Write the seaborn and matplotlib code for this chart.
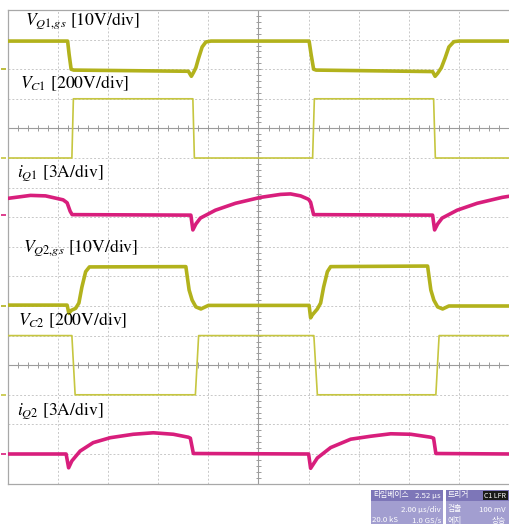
import numpy as np
import pandas as pd
import matplotlib
matplotlib.use("Agg")
import matplotlib.pyplot as plt
from matplotlib.patches import Rectangle
import seaborn as sns

# ---------------- data (time in µs, values in V / A) ----------------
t_vq1 = [0, 2.38, 2.44, 2.52, 2.62, 7.2, 7.32, 7.4, 7.5, 7.6, 7.75, 7.9, 8.1,
         12.02, 12.1, 12.2, 12.3, 16.95, 17.05, 17.15, 17.3, 17.45, 17.6, 17.8, 18.0, 20.1]
v_vq1 = [9.5, 9.5, 5, 0, -0.3, -0.7, -2.4, -1.2, 0.5, 3.5, 7.5, 9.2, 9.5,
         9.5, 5, 0, -0.3, -0.8, -2.4, -1.4, 0.5, 3.8, 7.5, 9.3, 9.5, 9.5]

t_vc1 = [0, 2.55, 2.61, 7.38, 7.44, 12.16, 12.23, 16.99, 17.06, 20.1]
v_vc1 = [0, 0, 400, 400, 0, 0, 400, 400, 0, 0]

t_iq1 = [0, 0.9, 1.5, 2.2, 2.36, 2.48, 2.56, 7.3, 7.38, 7.5, 7.68, 8.28, 9.08, 10.08,
         10.88, 11.28, 11.68, 12.0, 12.08, 12.2, 16.95, 17.03, 17.15, 17.33, 17.93,
         18.73, 19.73, 20.1]
v_iq1 = [1.7, 2.0, 1.95, 1.55, 1.25, 0.4, 0.05, 0, -1.5, -0.9, -0.3, 0.5, 1.2, 1.8,
         2.1, 2.15, 1.95, 1.6, 1.3, 0.05, 0, -1.5, -0.9, -0.3, 0.5,
         1.2, 1.8, 1.95]

t_vq2 = [0, 2.36, 2.43, 2.52, 2.7, 2.83, 2.95, 3.1, 3.25, 7.1, 7.23, 7.35, 7.5, 7.7, 8.0,
         12.02, 12.08, 12.15, 12.35, 12.48, 12.6, 12.75, 12.88, 16.75, 16.88, 17.0,
         17.15, 17.35, 17.6, 20.1]
v_vq2 = [0.3, 0.3, -2.5, -1.5, -0.8, 1.0, 6.4, 11.6, 13.2, 13.3, 5.4, 2.0, -0.3, -1.0, 0.2,
         0.2, -4.0, -3.0, -1.0, 1.0, 6.4, 11.6, 13.3, 13.5, 5.4, 2.0,
         -0.3, -1.0, 0.0, 0.0]

t_vc2 = [0, 2.55, 2.68, 7.48, 7.61, 12.21, 12.35, 17.08, 17.21, 20.1]
v_vc2 = [400, 400, 0, 0, 400, 400, 0, 0, 400, 400]

t_iq2 = [0, 2.32, 2.42, 2.55, 2.88, 3.4, 4.08, 5.0, 5.8, 6.6, 7.2, 7.28, 7.4,
         12.0, 12.08, 12.35, 12.88, 13.68, 14.48, 15.28, 16.08, 16.88, 16.99, 17.08, 20.1]
v_iq2 = [0, 0, -1.4, -0.7, 0.3, 1.15, 1.65, 2.0, 2.15, 2.0, 1.7, 1.6, 0.05,
         0, -1.45, -0.4, 0.65, 1.5, 1.8, 2.05, 2.0, 1.7, 1.6, 0.05, 0]

channels = ["VQ1gs", "VC1", "iQ1", "VQ2gs", "VC2", "iQ2"]
labels = [r"$V_{Q1{,}gs}$ [10V/div]", r"$V_{C1}$ [200V/div]", r"$i_{Q1}$ [3A/div]",
          r"$V_{Q2{,}gs}$ [10V/div]", r"$V_{C2}$ [200V/div]", r"$i_{Q2}$ [3A/div]"]
scales = [10, 200, 3, 10, 200, 3]           # units per division
ground_div = [14, 11, 9.07, 6, 3, 1.0]      # ground marker position (div)
times = [t_vq1, t_vc1, t_iq1, t_vq2, t_vc2, t_iq2]
values = [v_vq1, v_vc1, v_iq1, v_vq2, v_vc2, v_iq2]

time_per_div = 2.0  # µs/div

# ---------------- styling ----------------
sns.set_theme(style="white")
plt.rcParams["font.family"] = "STIXGeneral"
plt.rcParams["mathtext.fontset"] = "stix"

gate_col = "#b2b21c"
vc_col = "#c6c640"
cur_col = "#d81e7c"
colors = [gate_col, vc_col, cur_col, gate_col, vc_col, cur_col]
widths = [2.6, 1.2, 2.6, 2.6, 1.2, 2.6]

W, H = 510, 524
fig = plt.figure(figsize=(W / 100, H / 100), dpi=100)
left_px, right_px, top_px, bot_px = 8, 509, 10, 483.6
ax = fig.add_axes([left_px / W, 1 - bot_px / H, (right_px - left_px) / W, (bot_px - top_px) / H])
ax.set_xlim(0, 10 * time_per_div)
ax.set_ylim(0, 16)
ax.set_xticks([])
ax.set_yticks([])
for s in ["left", "top", "bottom"]:
    ax.spines[s].set_color("#a8a8a8")
    ax.spines[s].set_linewidth(0.9)
ax.spines["right"].set_visible(False)

# grid
grid_col = "#c8c8c8"
for i in range(1, 10):
    if i == 5:
        continue
    ax.axvline(i * time_per_div, color=grid_col, lw=0.7, ls=(0, (2, 2)), zorder=0)
for j in range(1, 16):
    if j in (4, 12):
        continue
    ax.axhline(j, color=grid_col, lw=0.7, ls=(0, (2, 2)), zorder=0)
center_col = "#9c9c9c"
ax.axvline(5 * time_per_div, color=center_col, lw=0.8, zorder=0)
for yc in (4, 12):
    ax.axhline(yc, color=center_col, lw=0.8, zorder=0)
    ticks_x = np.arange(0, 20.01, time_per_div / 5)
    ax.vlines(ticks_x, yc - 0.1, yc + 0.1, color=center_col, lw=0.7, zorder=0)
ticks_y = np.arange(0, 16.01, 0.2)
ax.hlines(ticks_y, 10 - 0.1, 10 + 0.1, color=center_col, lw=0.7, zorder=0)

# traces
for name, t, v, sc, g, c, lw in zip(channels, times, values, scales, ground_div, colors, widths):
    df = pd.DataFrame({"t": t, "div": np.asarray(v, dtype=float) / sc + g})
    sns.lineplot(data=df, x="t", y="div", ax=ax, color=c, lw=lw, sort=False,
                 estimator=None, zorder=3)
    # ground marker on left edge
    ax.plot([-7 / 25.05, -2 / 25.05], [g, g], color=c, lw=1.2, clip_on=False,
            solid_capstyle="butt")
ax.set_xlabel("")
ax.set_ylabel("")

# channel labels
label_pos = [(25, 25), (20, 88), (17, 177), (23, 252), (18, 325), (17, 415)]
for lab, (px, py) in zip(labels, label_pos):
    fig.text(px / W, 1 - py / H, lab, fontsize=12.7, color="black",
             ha="left", va="baseline")

# status box
kr = ["Noto Sans CJK KR", "DejaVu Sans"]
def rect(x0, y0, x1, y1, col):
    fig.patches.append(Rectangle((x0 / W, 1 - y1 / H), (x1 - x0) / W, (y1 - y0) / H,
                                 transform=fig.transFigure, facecolor=col,
                                 edgecolor="none", zorder=5))
def txt(x, y, s, ha="left", col="white", fs=5.6):
    fig.text(x / W, 1 - y / H, s, ha=ha, va="center", fontsize=fs, color=col,
             family=kr, zorder=6)

rect(371, 490, 443, 524, "#a29ed0")
rect(371, 490, 443, 501, "#7d76b8")
txt(373, 495.5, "타임베이스")
txt(441, 495.5, "2.52 µs", ha="right")
txt(441, 509.5, "2.00 µs/div", ha="right")
txt(372, 520.5, "20.0 kS")
txt(441, 520.5, "1.0 GS/s", ha="right")

rect(446, 490, 510, 524, "#a29ed0")
rect(446, 490, 510, 501, "#7d76b8")
rect(483, 491, 508, 500, "#1a1a1a")
txt(448, 495.5, "트리거")
txt(495.5, 495.5, "C1 LFR", ha="center", fs=5.0)
txt(448, 509.5, "검출")
txt(506, 509.5, "100 mV", ha="right")
txt(448, 520.5, "에지")
txt(506, 520.5, "상승", ha="right")

fig.savefig("out.png", dpi=100)
